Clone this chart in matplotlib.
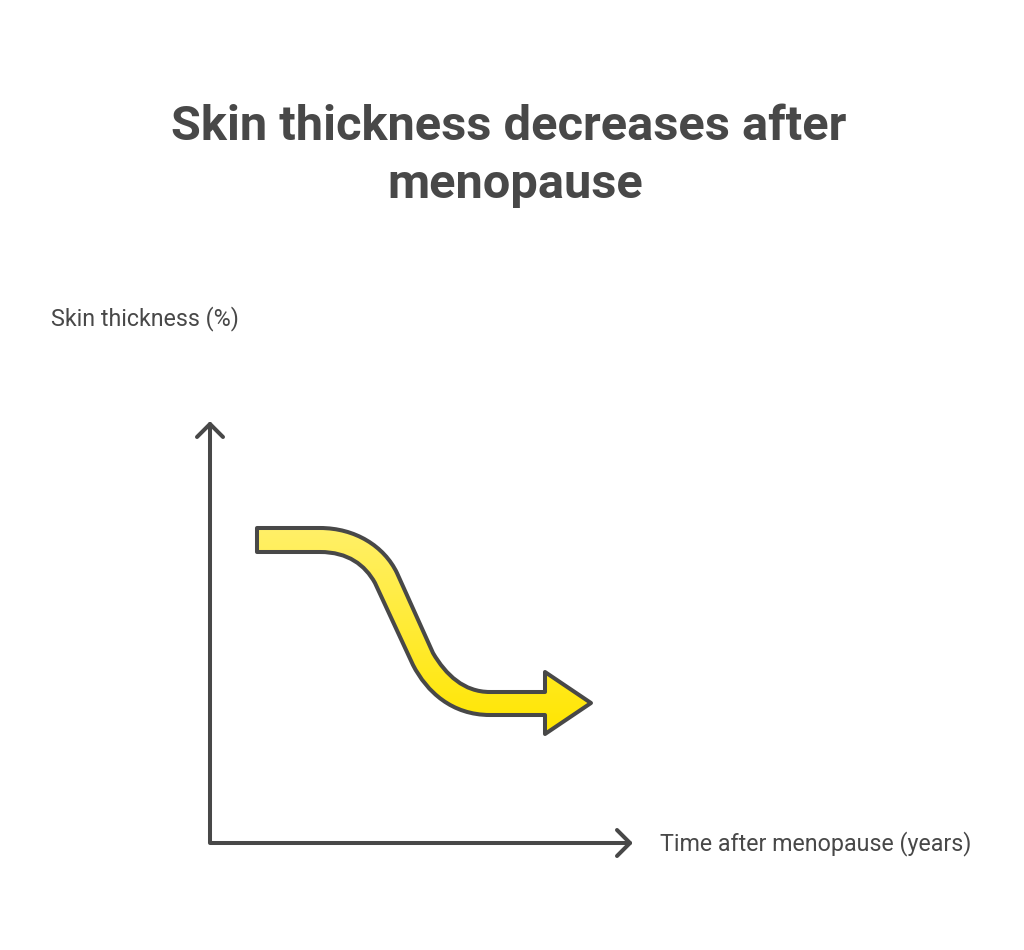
import numpy as np
import matplotlib
matplotlib.use("Agg")
import matplotlib.pyplot as plt
from matplotlib.path import Path
from matplotlib.patches import PathPatch

title_lines = ["Skin thickness decreases after", "menopause"]
y_label = "Skin thickness (%)"
x_label = "Time after menopause (years)"

# axis lines, in pixels of the picture
axis_x = [210, 210, 630]
axis_y = [424, 843, 843]
head_up_x = [197, 210, 223]
head_up_y = [437, 424, 437]
head_right_x = [617, 630, 617]
head_right_y = [830, 843, 856]

# outline of the yellow arrow: points and the path codes that go with them
M, L, C, Z = Path.MOVETO, Path.LINETO, Path.CURVE4, Path.CLOSEPOLY
arrow_x = [257, 320, 355, 384, 397, 433, 446, 464, 490, 545, 545, 591, 545, 545, 490, 452, 427, 413, 375, 365, 348, 320, 257, 257]
arrow_y = [528, 528, 528, 546, 573, 653, 675, 692, 692, 692, 672, 703, 734, 715, 715, 715, 692, 665, 583, 565, 552, 552, 552, 528]
arrow_codes = [M, L, C, C, C, L, C, C, C, L, L, L, L, L, L, C, C, C, L, C, C, C, L, Z]

dark = "#484848"

fig = plt.figure(figsize=(10.24, 9.5), dpi=100)
ax = fig.add_axes([0, 0, 1, 1])
ax.set_xlim(0, 1024)
ax.set_ylim(950, 0)
ax.axis("off")

# axes with open arrow heads
ax.plot(axis_x, axis_y, color=dark, lw=2.9, solid_capstyle="round", solid_joinstyle="round")
ax.plot(head_up_x, head_up_y, color=dark, lw=2.9, solid_capstyle="round", solid_joinstyle="round")
ax.plot(head_right_x, head_right_y, color=dark, lw=2.9, solid_capstyle="round", solid_joinstyle="round")

# yellow arrow, vertical gradient clipped to the outline
arrow_path = Path(np.column_stack([arrow_x, arrow_y]), arrow_codes)
patch = PathPatch(arrow_path, facecolor="none", edgecolor=dark, lw=2.9, joinstyle="round", zorder=3)
ax.add_patch(patch)
top = np.array(matplotlib.colors.to_rgb("#FFF068"))
bottom = np.array(matplotlib.colors.to_rgb("#FFE600"))
t = np.linspace(0, 1, 256)[:, None, None]
gradient = top * (1 - t) + bottom * t
img = ax.imshow(gradient, extent=[257, 591, 734, 528], aspect="auto", zorder=2)
img.set_clip_path(PathPatch(arrow_path, transform=ax.transData))
ax.set_xlim(0, 1024)
ax.set_ylim(950, 0)

# texts
ax.text(509, 127, title_lines[0], family="Roboto", weight="bold", fontsize=35.1, color=dark, ha="center", va="center")
ax.text(515, 185, title_lines[1], family="Roboto", weight="bold", fontsize=35.1, color=dark, ha="center", va="center")
ax.text(51, 319, y_label, family="Roboto", fontsize=16.75, color=dark, ha="left", va="center")
ax.text(660, 844, x_label, family="Roboto", fontsize=16.75, color=dark, ha="left", va="center")

fig.savefig("out.png", dpi=100, facecolor="white")
